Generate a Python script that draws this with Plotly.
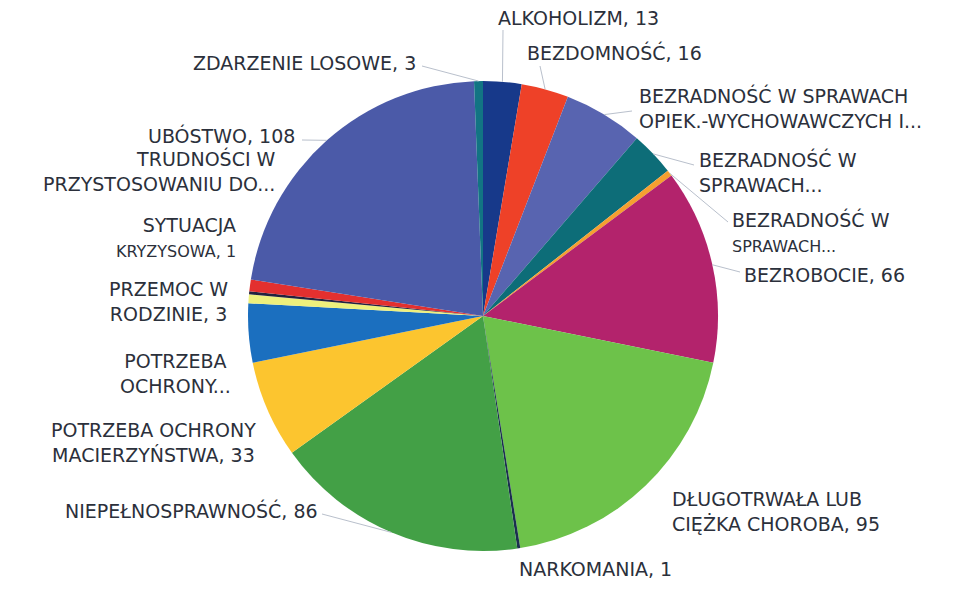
import math
import plotly.graph_objects as go

# ---- data ----
categories = [
    "ALKOHOLIZM", "BEZDOMNOŚĆ",
    "BEZRADNOŚĆ W SPRAWACH OPIEK.-WYCHOWAWCZYCH I PROWADZENIA GOSPODARSTWA DOMOWEGO",
    "BEZRADNOŚĆ W SPRAWACH OPIEK.-WYCHOWAWCZYCH - RODZINA NIEPEŁNA",
    "BEZRADNOŚĆ W SPRAWACH OPIEK.-WYCHOWAWCZYCH - RODZINA WIELODZIETNA",
    "BEZROBOCIE", "DŁUGOTRWAŁA LUB CIĘŻKA CHOROBA", "NARKOMANIA",
    "NIEPEŁNOSPRAWNOŚĆ", "POTRZEBA OCHRONY MACIERZYŃSTWA",
    "POTRZEBA OCHRONY MACIERZYŃSTWA - WIELODZIETNOŚĆ",
    "PRZEMOC W RODZINIE", "SYTUACJA KRYZYSOWA",
    "TRUDNOŚCI W PRZYSTOSOWANIU DO ŻYCIA PO ZWOLNIENIU Z ZAKŁADU KARNEGO",
    "UBÓSTWO", "ZDARZENIE LOSOWE",
]
values = [13, 16, 27, 15, 2, 66, 95, 1, 86, 33, 20, 3, 1, 4, 108, 3]
label_texts = [
    "ALKOHOLIZM, 13",
    "BEZDOMNOŚĆ, 16",
    "BEZRADNOŚĆ W SPRAWACH<br>OPIEK.-WYCHOWAWCZYCH I...",
    "BEZRADNOŚĆ W<br>SPRAWACH...",
    "BEZRADNOŚĆ W<br><span style='font-size:16px'>SPRAWACH...</span>",
    "BEZROBOCIE, 66",
    "DŁUGOTRWAŁA LUB<br>CIĘŻKA CHOROBA, 95",
    "NARKOMANIA, 1",
    "NIEPEŁNOSPRAWNOŚĆ, 86",
    "POTRZEBA OCHRONY<br>MACIERZYŃSTWA, 33",
    "POTRZEBA<br>OCHRONY...",
    "PRZEMOC W<br>RODZINIE, 3",
    "SYTUACJA<br><span style='font-size:16px'>KRYZYSOWA, 1</span>",
    "TRUDNOŚCI W<br>PRZYSTOSOWANIU DO...",
    "UBÓSTWO, 108",
    "ZDARZENIE LOSOWE, 3",
]
colors = [
    "#17398a", "#ee4128", "#5864b0", "#0d6d78", "#f5a030", "#b3236c",
    "#6dc24a", "#1b2f4f", "#43a046", "#fcc52f", "#1b6fbf", "#eef07c",
    "#22233f", "#e3302f", "#4b5aa8", "#127483",
]

# ---- layout (pixel positions in the 968x591 window) ----
OFF = 8                     # page body margin
W, H = 968 - 2 * OFF, 591 - 2 * OFF
CX, CY, R = 483, 316, 235
# (x, y, xanchor, align, leader end or None)
label_layout = [
    (496, 18, "left", "left", (503, 30)),
    (525, 53, "left", "left", (540, 66)),
    (637, 108, "left", "left", (632, 111)),
    (697, 172, "left", "left", (694, 165)),
    (730, 232, "left", "left", (728, 222)),
    (742, 275, "left", "left", (740, 272)),
    (670, 511, "left", "left", None),
    (517, 569, "left", "left", None),
    (320, 510, "right", "right", (322, 514)),
    (258, 442, "right", "center", None),
    (233, 373, "right", "center", None),
    (230, 301, "right", "center", None),
    (238, 237, "right", "right", None),
    (278, 171, "right", "right", None),
    (297, 136, "right", "right", (302, 140)),
    (418, 63, "right", "right", (422, 66)),
]

def px(x, y):
    return (x - OFF) / W, 1 - (y - OFF) / H

fig = go.Figure(go.Pie(
    labels=categories, values=values, sort=False, direction="clockwise",
    rotation=0, textinfo="none", hoverinfo="label+value",
    marker=dict(colors=colors, line=dict(width=0)),
    domain=dict(x=[(CX - OFF - R) / W, (CX - OFF + R) / W],
                y=[1 - (CY - OFF + R) / H, 1 - (CY - OFF - R) / H]),
    showlegend=False,
))

total = sum(values)
cum = 0
annotations, shapes = [], []
for txt, v, (lx, ly, xa, al, lead) in zip(label_texts, values, label_layout):
    mid = (cum + v / 2) / total * 2 * math.pi
    cum += v
    ax, ay = px(lx, ly)
    annotations.append(dict(
        x=ax, y=ay, xref="paper", yref="paper", text=txt, showarrow=False,
        xanchor=xa, yanchor="middle", align=al,
        font=dict(family="DejaVu Sans", size=19, color="#2b303b"),
    ))
    if lead is not None:
        sx, sy = CX + R * math.sin(mid), CY - R * math.cos(mid)
        x0, y0 = px(*lead)
        x1, y1 = px(sx, sy)
        shapes.append(dict(type="line", xref="paper", yref="paper",
                           x0=x0, y0=y0, x1=x1, y1=y1,
                           line=dict(color="#b9c0cc", width=1)))

fig.update_layout(
    width=W, height=H, margin=dict(l=0, r=0, t=0, b=0),
    paper_bgcolor="white", plot_bgcolor="white",
    annotations=annotations, shapes=shapes,
)
fig.write_html("out.html")
